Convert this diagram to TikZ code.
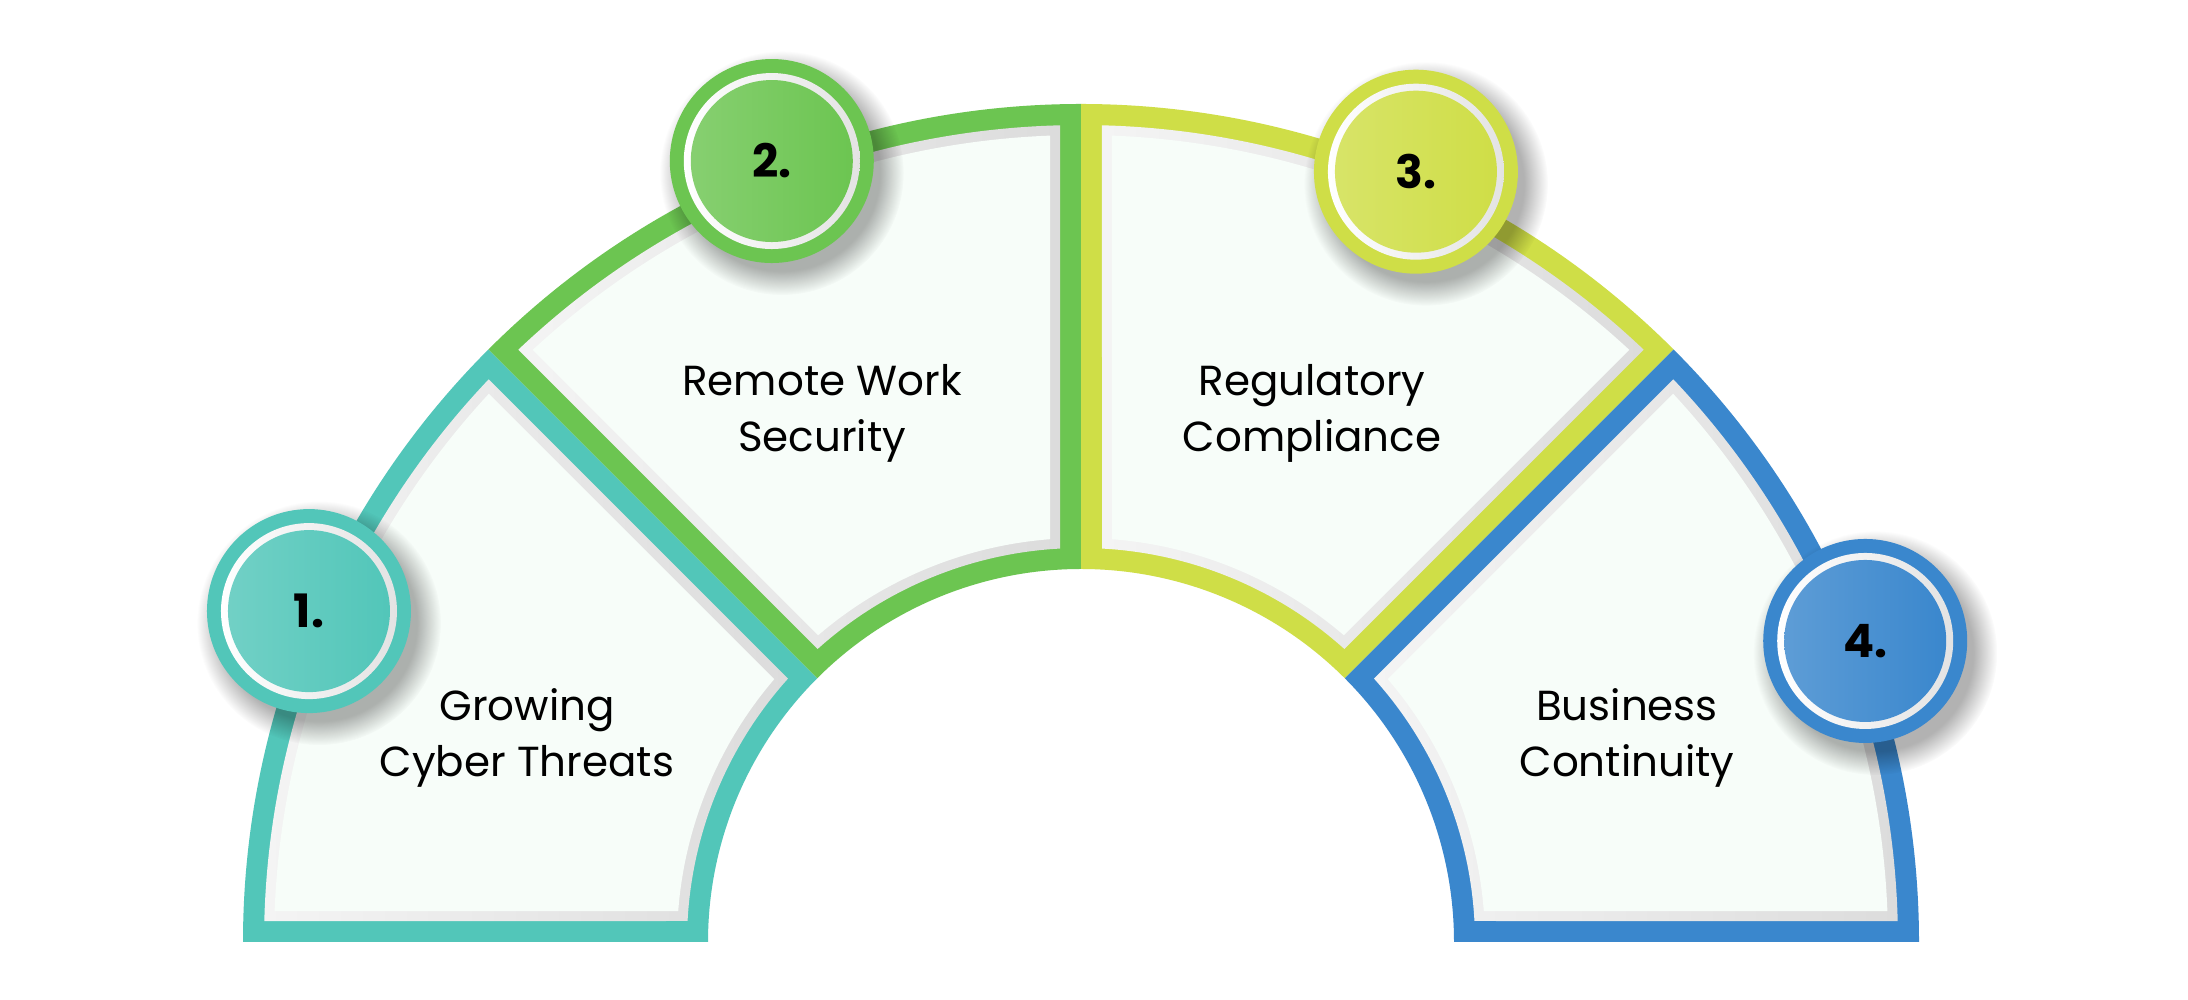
\documentclass[tikz,border=0pt]{standalone}
\usepackage{fontspec}
\setmainfont{Poppins}
\usetikzlibrary{fadings}
\definecolor{cteal}{HTML}{52C6B9}
\definecolor{cgreen}{HTML}{6CC551}
\definecolor{clime}{HTML}{CFDE47}
\definecolor{cblue}{HTML}{3A87CD}
\definecolor{cpanel}{HTML}{F7FDF9}
\definecolor{bevL}{HTML}{F4F4F4}
\definecolor{bevR}{HTML}{DCDCDC}
% annular sector inset by d: #1 options, #2 a1, #3 a2, #4 rin, #5 rout, #6 d
\newcommand\annsec[6]{%
  \pgfmathsetmacro\secRa{#4+#6}%
  \pgfmathsetmacro\secRb{#5-#6}%
  \pgfmathsetmacro\secAa{#2+asin(#6/\secRa)}%
  \pgfmathsetmacro\secAb{#2+asin(#6/\secRb)}%
  \pgfmathsetmacro\secAc{#3-asin(#6/\secRb)}%
  \pgfmathsetmacro\secAd{#3-asin(#6/\secRa)}%
  \path[#1] (\secAa:\secRa pt) -- (\secAb:\secRb pt)
    arc[start angle=\secAb, end angle=\secAc, radius=\secRb pt]
    -- (\secAd:\secRa pt)
    arc[start angle=\secAd, end angle=\secAa, radius=\secRa pt] -- cycle;
}
\newcommand\fullsec[3]{% a1 a2 colour
  \annsec{fill=#3}{#1}{#2}{373}{838}{0}
  \annsec{left color=bevL, right color=bevR}{#1}{#2}{373}{838}{21}
  \annsec{fill=cpanel}{#1}{#2}{373}{838}{31}
}
\newcommand\numcirc[4]{% name angle colour text
  \begin{scope}[shift={(#2:840pt)}]
    \fill[black,opacity=0.3,path fading=circle with fuzzy edge 20 percent] (10,-12) circle (122pt);
    \fill[#3] (0,0) circle (102pt);
    \shade[left color=white, right color=gray!22] (0,0) circle (88pt);
    \shade[left color=#3!82!white, right color=#3] (0,0) circle (81pt);
    \node[numtext] (#1) at (0,0) {#4};
  \end{scope}
}
\tikzset{
  numtext/.style={font=\fontsize{46}{50}\selectfont\bfseries, text=black},
  label/.style={font=\fontsize{42}{56}\selectfont, text=black, align=center}
}
\begin{document}
\begin{tikzpicture}[x=1pt,y=1pt]
\useasboundingbox (0,0) rectangle (2188,1000);
\fill[white] (0,0) rectangle (2188,1000);
\begin{scope}[shift={(1081,58)}]
  \fullsec{135}{180}{cteal}
  \fullsec{90}{135}{cgreen}
  \fullsec{45}{90}{clime}
  \fullsec{0}{45}{cblue}
  \numcirc{n1}{156.8}{cteal}{1.}
  \numcirc{n2}{111.6}{cgreen}{2.}
  \numcirc{n3}{66.5}{clime}{3.}
  \numcirc{n4}{21}{cblue}{4.}
\end{scope}
\node[label] (t1) at (527,262) {Growing\\Cyber Threats};
\node[label] (t2) at (822,587) {Remote Work\\Security};
\node[label] (t3) at (1312,587) {Regulatory\\Compliance};
\node[label] (t4) at (1627,262) {Business\\Continuity};
\end{tikzpicture}
\end{document}
